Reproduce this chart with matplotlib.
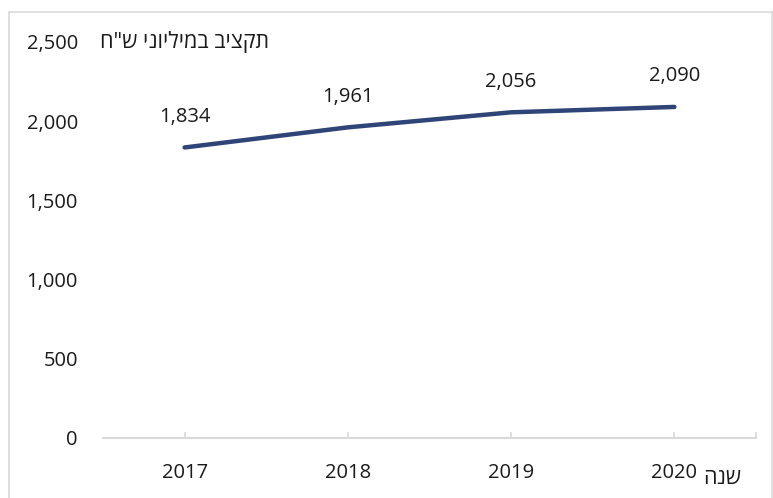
import numpy as np
import matplotlib
matplotlib.use("Agg")
from matplotlib import pyplot as plt
from matplotlib.patches import Rectangle

plt.rcParams['font.family'] = ['Open Sans', 'DejaVu Sans']

years = ["2017", "2018", "2019", "2020"]
budget = [1834, 1961, 2056, 2090]
y_ticks = [0, 500, 1000, 1500, 2000, 2500]

# hebrew is drawn left to right by matplotlib, so the strings are stored reversed
y_title = "תקציב במיליוני ש\"ח"[::-1]
x_title = "שנה"[::-1]

line_color = "#2f4577"
grid_gray = "#d9d9d9"
fs = 14.5


def main():
  fig = plt.figure(figsize=(7.73, 4.98), dpi=100)
  ax = fig.add_axes([0.1332, 0.1205, 0.8448, 0.7952])

  x = np.arange(len(years))
  ax.plot(x, budget, color=line_color, linewidth=3.2, solid_capstyle="round")
  for xi, v in zip(x, budget):
    ax.annotate(f"{v:,}", (xi, v), xytext=(0, 22), textcoords="offset points",
                ha="center", va="center", fontsize=fs, color="#1a1a1a")

  ax.set_xlim(-0.5, 3.5)
  ax.set_ylim(0, 2500)
  ax.set_yticks(y_ticks)
  ax.set_yticklabels([f"{t:,}" for t in y_ticks])
  ax.set_xticks(list(x) + [3.5])
  ax.set_xticklabels(years + [""])

  for s in ["top", "right", "left"]:
    ax.spines[s].set_visible(False)
  ax.spines["bottom"].set_color(grid_gray)
  ax.spines["bottom"].set_linewidth(1.5)
  ax.tick_params(axis="x", direction="in", length=4, width=1.2, color=grid_gray,
                 pad=18, labelsize=fs, labelcolor="#1a1a1a")
  ax.tick_params(axis="y", length=0, pad=18, labelsize=fs, labelcolor="#1a1a1a")

  fig.text(100 / 773, 1 - 42 / 498, y_title, ha="left", va="center",
           fontsize=15.5, color="#1a1a1a")
  fig.text(703 / 773, 1 - 478 / 498, x_title, ha="left", va="center",
           fontsize=15.5, color="#1a1a1a")

  # outer frame of the chart area
  fig.patches.append(Rectangle((9 / 773, -0.05), (772 - 9) / 773, 1.05 - 12 / 498,
                               transform=fig.transFigure, fill=False,
                               edgecolor=grid_gray, linewidth=1.2))

  fig.savefig("out.png", dpi=100)


if __name__ == '__main__':
  main()
